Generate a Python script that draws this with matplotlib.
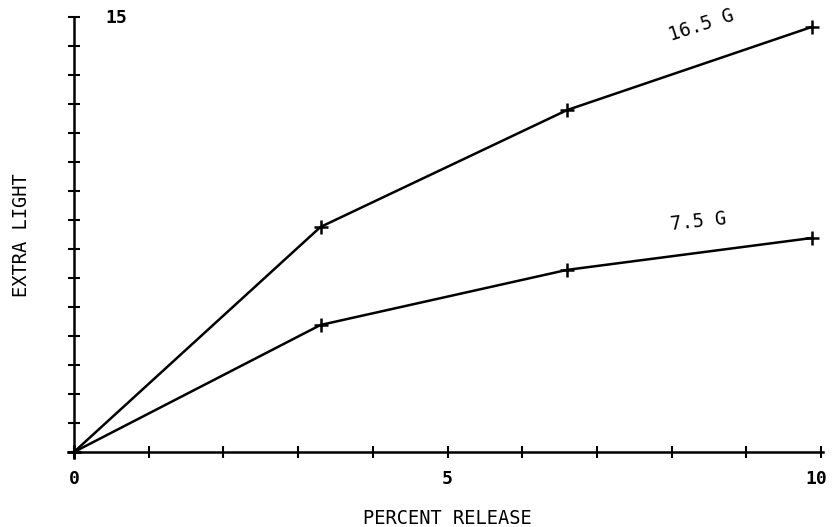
import matplotlib
matplotlib.use("Agg")
import matplotlib.pyplot as plt

# percent release vs extra light, two field strengths
release = [0.0, 3.3, 6.6, 9.88]
light_16_5 = [0.0, 7.76, 11.79, 14.66]
light_7_5 = [0.0, 4.38, 6.28, 7.38]
series_labels = ["16.5 G", "7.5 G"]
x_tick_labels = {0: "0", 5: "5", 10: "10"}
y_top_label = "15"

W, H = 835, 527
fig = plt.figure(figsize=(W / 100, H / 100), dpi=100)
x0, x1 = 74, 821
y0, y1 = 452, 17
ax = fig.add_axes([x0 / W, (H - y0) / H, (x1 - x0) / W, (y0 - y1) / H])
ax.set_xlim(0, 10)
ax.set_ylim(0, 15)

for s in ("top", "right"):
    ax.spines[s].set_visible(False)
for s in ("left", "bottom"):
    ax.spines[s].set_linewidth(1.8)
ax.spines["bottom"].set_bounds(0, 10.03)

ax.set_xticks(range(0, 11))
ax.set_yticks(range(0, 16))
ax.tick_params(direction="inout", length=9, width=1.5, labelbottom=False, labelleft=False)

font = dict(family="DejaVu Sans Mono", color="black")
line_kw = dict(color="black", lw=1.8, marker="+", ms=10, mew=1.8, clip_on=False)
ax.plot(release, light_16_5, **line_kw)
ax.plot(release, light_7_5, **line_kw)

ax.text(8.4, 14.7, series_labels[0], rotation=18, ha="center", va="center", fontsize=13.5, **font)
ax.text(8.36, 7.95, series_labels[1], rotation=6, ha="center", va="center", fontsize=13.5, **font)

ax.text(0.56, 14.97, y_top_label, ha="center", va="center", fontsize=13, fontweight="bold", **font)
for xv, lab in x_tick_labels.items():
    xpos = xv if xv < 10 else 9.93
    ax.text(xpos, -0.93, lab, ha="center", va="center", fontsize=13, fontweight="bold", **font)

ax.text(5.0, -2.3, "PERCENT RELEASE", ha="center", va="center", fontsize=13.5, **font)
fig.text(22 / W, (H - 235) / H, "EXTRA LIGHT", rotation=90, ha="center", va="center", fontsize=13.5, **font)

fig.savefig("out.png", dpi=100)
